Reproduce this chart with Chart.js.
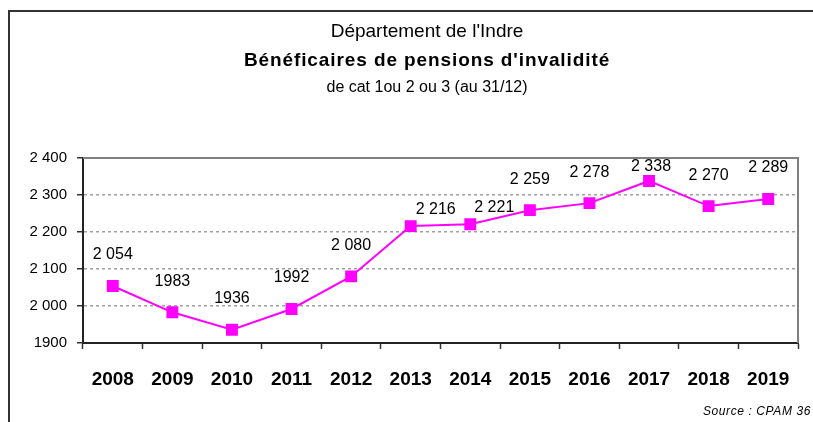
<!DOCTYPE html>
<html>
<head>
<meta charset="utf-8">
<script src="https://cdn.jsdelivr.net/npm/chart.js@4/dist/chart.umd.min.js"></script>
<style>
  html, body { margin: 0; padding: 0; background: #fff; }
  #wrap { width: 813px; height: 422px; }
</style>
</head>
<body>
<div id="wrap"><canvas id="myChart" width="813" height="422"></canvas></div>
<script>
// values
const years = ['2008', '2009', '2010', '2011', '2012', '2013', '2014', '2015', '2016', '2017', '2018', '2019'];
const beneficiaires = [2054, 1983, 1936, 1992, 2080, 2216, 2221, 2259, 2278, 2338, 2270, 2289];
const yTicks = [1900, 2000, 2100, 2200, 2300, 2400];

const titleLines = ["Département de l'Indre", "Bénéficaires de pensions d'invalidité", "de cat 1ou 2 ou 3 (au 31/12)"];
const sourceText = 'Source : CPAM 36';

const FONT = '"Liberation Sans", Arial, sans-serif';

// Excel style: thousands separated by a space from 2000 on
function fmt(v) {
    if (v < 2000) return String(v);
    const s = String(v);
    return s.slice(0, s.length - 3) + ' ' + s.slice(-3);
}

// frame, titles, plot border, source
const decorPlugin = {
    id: 'decor',
    beforeDraw(chart) {
        const ctx = chart.ctx;
        ctx.save();
        ctx.strokeStyle = '#333';
        ctx.lineWidth = 2;
        ctx.beginPath();
        ctx.moveTo(9, 422);
        ctx.lineTo(9, 11);
        ctx.lineTo(813, 11);
        ctx.stroke();

        ctx.fillStyle = '#000';
        ctx.textAlign = 'center';
        ctx.textBaseline = 'alphabetic';
        ctx.font = '19px ' + FONT;
        ctx.fillText(titleLines[0], 427, 37);
        ctx.font = 'bold 19px ' + FONT;
        ctx.letterSpacing = '0.9px';
        ctx.fillText(titleLines[1], 427, 66);
        ctx.letterSpacing = '0px';
        ctx.font = '16px ' + FONT;
        ctx.fillText(titleLines[2], 427, 92);

        ctx.textAlign = 'right';
        ctx.font = 'italic 12px ' + FONT;
        ctx.letterSpacing = '0.6px';
        ctx.fillText(sourceText, 811, 415);
        ctx.restore();
    },
    beforeDatasetsDraw(chart) {
        const ctx = chart.ctx;
        const a = chart.chartArea;
        ctx.save();
        ctx.strokeStyle = '#808080';
        ctx.lineWidth = 2;
        ctx.beginPath();
        ctx.moveTo(a.left, a.top);
        ctx.lineTo(a.right, a.top);
        ctx.lineTo(a.right, a.bottom);
        ctx.stroke();
        ctx.restore();
    }
};

// value labels above the markers
const labelPlugin = {
    id: 'valueLabels',
    afterDatasetsDraw(chart, args, opts) {
        const ctx = chart.ctx;
        const meta = chart.getDatasetMeta(0);
        ctx.save();
        ctx.fillStyle = '#000';
        ctx.font = '16px ' + FONT;
        ctx.textAlign = 'center';
        ctx.textBaseline = 'middle';
        meta.data.forEach((pt, i) => {
            const sh = opts.shift[i] || [0, -31];
            ctx.fillText(fmt(beneficiaires[i]), pt.x + sh[0], pt.y + sh[1]);
        });
        ctx.restore();
    }
};

var ctx = document.getElementById('myChart').getContext('2d');

var myChart = new Chart(ctx, {
    type: 'line',
    data: {
        labels: years,
        datasets: [
            {
                label: 'Bénéficiaires',
                data: beneficiaires,
                borderColor: '#ff00ff',
                backgroundColor: '#ff00ff',
                borderWidth: 2,
                pointStyle: 'rect',
                pointRadius: 7,
                pointHoverRadius: 7,
                tension: 0
            }
        ]
    },
    options: {
        responsive: false,
        animation: false,
        events: [],
        layout: { padding: { top: 158, right: 15, bottom: 0, left: 0 } },
        plugins: {
            legend: { display: false },
            tooltip: { enabled: false },
            valueLabels: {
                shift: { 5: [25, -16], 6: [24, -17], 9: [2, -14] }
            }
        },
        scales: {
            x: {
                offset: true,
                afterFit(scale) { scale.height = 79; },
                grid: {
                    offset: true,
                    drawOnChartArea: false,
                    drawTicks: true,
                    tickLength: 6,
                    tickColor: '#333',
                    tickWidth: 1.5
                },
                border: { color: '#222', width: 2 },
                ticks: {
                    color: '#000',
                    padding: 19,
                    font: { family: FONT, size: 19, weight: 'bold' }
                }
            },
            y: {
                min: yTicks[0],
                max: yTicks[yTicks.length - 1],
                afterFit(scale) { scale.width = 83; },
                afterBuildTicks(scale) { scale.ticks = yTicks.map(v => ({ value: v })); },
                grid: {
                    color: ctx => (ctx.tick && (ctx.tick.value === yTicks[0] || ctx.tick.value === yTicks[yTicks.length - 1])) ? 'rgba(0,0,0,0)' : '#a0a0a0',
                    lineWidth: 1.5,
                    tickColor: '#333',
                    tickWidth: 1.5,
                    tickLength: 6
                },
                border: { color: '#222', width: 2, dash: [3, 3] },
                ticks: {
                    color: '#000',
                    padding: 10,
                    font: { family: FONT, size: 15 },
                    callback: v => fmt(v)
                }
            }
        }
    },
    plugins: [decorPlugin, labelPlugin]
});
</script>
</body>
</html>
